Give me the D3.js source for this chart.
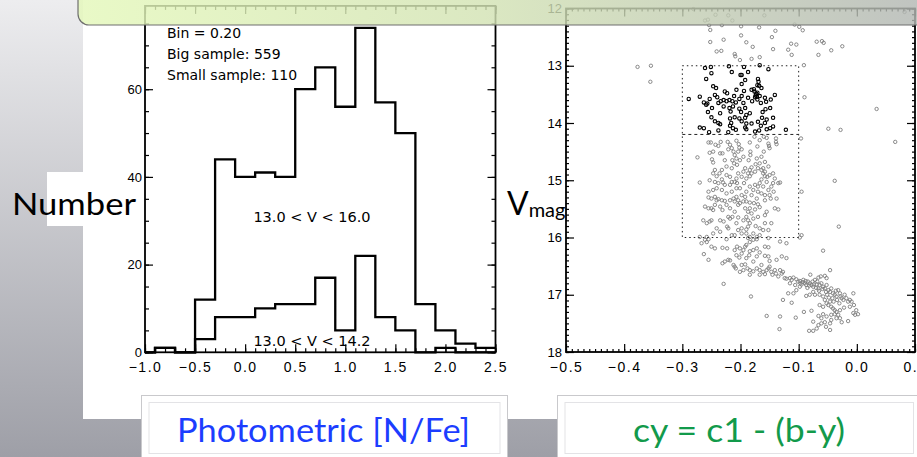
<!DOCTYPE html>
<html>
<head>
<meta charset="utf-8">
<script src="https://cdn.jsdelivr.net/npm/d3@7"></script>
<style>
  html, body { margin: 0; padding: 0; overflow: hidden; background: #fff; }
  svg { display: block; }
  .tick text { font-family: "Liberation Sans", Arial, sans-serif; font-size: 13px; fill: #000; }
  .tick line { stroke: #000; stroke-width: 1.2; }
</style>
</head>
<body>
<svg id="slide" width="917" height="457"></svg>
<script>
// ---------- [N/Fe] histogram (bin = 0.20) ----------
const binEdges = [-0.9, -0.7, -0.5, -0.3, -0.1, 0.1, 0.3, 0.5, 0.7, 0.9, 1.1, 1.3, 1.5, 1.7, 1.9, 2.1, 2.3, 2.5];
const bigCounts   = [1, 0, 12, 44, 40, 41, 40, 60, 65, 56, 74, 57, 50, 11, 5, 2, 1];   // 13.0 < V < 16.0
const smallCounts = [1, 0, 3, 8, 8, 10, 11, 11, 17, 5, 22, 8, 5, 0, 1, 0, 0];          // 13.0 < V < 14.2
const histXTicks = [-1.0, -0.5, 0.0, 0.5, 1.0, 1.5, 2.0, 2.5];
const histYTicks = [0, 20, 40, 60];
const histNotes = ["Bin = 0.20", "Big sample: 559", "Small sample: 110"];
const rangeLabels = ["13.0 < V < 16.0", "13.0 < V < 14.2"];

// ---------- cy vs V diagram ----------
const cmdXTicks = [-0.5, -0.4, -0.3, -0.2, -0.1, 0.0, 0.1];
const cmdYTicks = [12, 13, 14, 15, 16, 17, 18];
const selCy = [-0.3, -0.1];
const selV = [13.0, 14.2, 16.0];

// stars outside the bright selection: [cy, V]
const fieldStars = [
  [-0.281,12.01],[-0.243,12.11],[-0.221,12.12],[-0.214,12.21],[-0.159,12.12],[-0.261,12.21],[-0.256,12.195],[-0.254,12.29],
  [-0.252,12.375],[-0.232,12.29],[-0.199,12.31],[-0.168,12.33],[-0.140,12.39],[-0.107,12.28],[-0.099,12.32],[-0.093,12.38],
  [-0.199,12.47],[-0.146,12.50],[-0.229,12.545],[-0.252,12.585],[-0.190,12.59],[-0.179,12.67],[-0.113,12.615],[-0.104,12.63],
  [-0.144,12.71],[-0.118,12.72],[-0.112,12.81],[-0.241,12.75],[-0.233,12.74],[-0.210,12.795],[-0.209,12.835],[-0.201,12.90],
  [-0.181,12.88],[-0.167,12.85],[-0.069,12.58],[-0.060,12.57],[-0.057,12.60],[-0.025,12.66],[-0.044,12.73],[-0.066,12.81],
  [-0.377,13.02],[-0.354,13.00],[-0.355,13.28],[-0.091,12.99],[-0.090,13.55],[0.034,13.755],[0.082,12.06],
  [-0.049,14.10],[-0.028,14.12],[0.066,14.33],[-0.038,15.01],[-0.031,15.81],
  [-0.255,14.34],[-0.251,14.34],[-0.243,14.38],[-0.234,14.33],[-0.222,14.33],[-0.207,14.31],[-0.203,14.37],[-0.202,14.43],
  [-0.184,14.34],[-0.176,14.24],[-0.167,14.30],[-0.160,14.24],[-0.155,14.26],[-0.152,14.36],[-0.151,14.40],[-0.150,14.44],
  [-0.139,14.27],[-0.139,14.33],[-0.138,14.37],[-0.160,14.50],[-0.164,14.59],[-0.183,14.50],[-0.183,14.56],[-0.204,14.50],
  [-0.210,14.56],[-0.207,14.62],[-0.215,14.44],[-0.218,14.38],[-0.221,14.46],[-0.231,14.53],[-0.235,14.53],[-0.247,14.50],
  [-0.253,14.52],[-0.274,14.60],[-0.249,14.635],[-0.247,14.69],[-0.227,14.65],[-0.214,14.65],[-0.211,14.705],[-0.206,14.73],
  [-0.201,14.65],[-0.195,14.59],[-0.186,14.65],[-0.172,14.62],[-0.167,14.705],[-0.174,14.72],[-0.181,14.775],[-0.184,14.82],
  [-0.192,14.79],[-0.195,14.85],[-0.204,14.88],[-0.215,14.79],[-0.224,14.76],[-0.232,14.82],[-0.236,14.88],[-0.241,14.93],
  [-0.244,14.82],[-0.247,14.88],[-0.253,15.00],[-0.270,15.04],[-0.255,15.20],[-0.247,15.17],[-0.244,15.03],[-0.230,15.04],
  [-0.227,15.08],[-0.215,15.03],[-0.210,15.03],[-0.206,15.05],[-0.201,15.14],[-0.194,15.05],[-0.190,14.97],[-0.184,14.93],
  [-0.181,14.88],[-0.175,14.85],[-0.170,14.79],[-0.164,14.82],[-0.161,14.88],[-0.158,14.93],[-0.154,14.94],[-0.150,14.91],
  [-0.144,14.88],[-0.141,14.97],[-0.144,15.05],[-0.135,15.05],[-0.132,15.04],[-0.164,14.985],[-0.167,15.05],[-0.170,15.11],
  [-0.175,15.08],[-0.178,15.17],[-0.170,15.20],[-0.164,15.23],[-0.152,15.17],[-0.150,15.26],[-0.158,15.35],[-0.148,15.32],
  [-0.138,15.32],[-0.095,15.20],[-0.190,15.20],[-0.192,15.29],[-0.198,15.26],[-0.207,15.29],[-0.212,15.32],[-0.215,15.20],
  [-0.224,15.23],[-0.232,15.17],[-0.241,15.14],[-0.255,15.30],[-0.250,15.32],[-0.244,15.29],[-0.238,15.33],[-0.232,15.35],
  [-0.227,15.36],[-0.218,15.35],[-0.210,15.37],[-0.204,15.35],[-0.201,15.40],[-0.195,15.37],[-0.190,15.37],[-0.184,15.39],
  [-0.177,15.40],[-0.170,15.42],[-0.167,15.47],[-0.175,15.51],[-0.181,15.58],[-0.187,15.55],[-0.190,15.64],[-0.187,15.70],
  [-0.184,15.75],[-0.187,15.81],[-0.190,15.86],[-0.190,15.93],[-0.184,15.99],[-0.198,15.84],[-0.198,15.93],[-0.204,15.87],
  [-0.210,15.96],[-0.215,15.96],[-0.221,15.84],[-0.223,15.81],[-0.218,15.67],[-0.214,15.64],[-0.204,15.65],[-0.221,15.64],
  [-0.235,15.70],[-0.235,15.90],[-0.250,15.70],[-0.253,15.72],[-0.258,15.75],[-0.264,15.70],[-0.261,15.46],[-0.255,15.49],
  [-0.250,15.49],[-0.247,15.52],[-0.244,15.43],[-0.235,15.46],[-0.231,15.52],[-0.218,15.49],[-0.210,15.55],[-0.170,15.64],
  [-0.174,15.80],[-0.167,15.84],[-0.158,15.75],[-0.152,15.87],[-0.167,15.96],[-0.152,16.01],[-0.141,15.49],[-0.135,15.51],
  [-0.155,15.55],[-0.158,15.61],[-0.095,15.96],[-0.098,16.00],[-0.258,15.99],[-0.270,15.99],[-0.096,14.27],
  [-0.238,14.40],[-0.198,14.46],[-0.212,14.50],[-0.171,14.41],[-0.158,14.68],[-0.152,14.76],[-0.161,14.79],[-0.158,14.85],
  [-0.187,14.88],[-0.198,14.94],[-0.207,14.97],[-0.218,14.94],[-0.224,14.91],[-0.232,14.985],[-0.238,15.05],[-0.218,15.08],
  [-0.207,15.14],[-0.184,15.11],[-0.181,15.26],[-0.161,15.11],[-0.155,15.03],[-0.147,15.11],[-0.143,15.20],[-0.158,15.26],
  [-0.172,15.32],[-0.241,15.35],[-0.224,15.43],[-0.204,15.43],[-0.192,15.49],[-0.184,15.49],[-0.178,15.67],[-0.195,15.70],
  [-0.207,15.75],[-0.229,15.72],[-0.241,15.84],[-0.247,15.93],[-0.178,15.93],[-0.172,15.99],[-0.161,15.87],[-0.147,15.75],
  [-0.261,16.04],[-0.255,16.03],[-0.267,16.10],[-0.258,16.08],[-0.250,16.16],[-0.244,16.19],[-0.263,16.29],[-0.255,16.39],
  [-0.231,16.18],[-0.223,16.19],[-0.224,16.03],[-0.210,16.22],[-0.206,16.16],[-0.201,16.19],[-0.195,16.22],[-0.192,16.16],
  [-0.190,16.13],[-0.184,16.08],[-0.178,16.04],[-0.172,16.03],[-0.187,16.01],[-0.184,16.24],[-0.178,16.22],[-0.172,16.19],
  [-0.158,16.16],[-0.152,16.17],[-0.132,16.07],[-0.121,16.10],[-0.207,16.31],[-0.202,16.35],[-0.198,16.28],[-0.190,16.36],
  [-0.185,16.31],[-0.172,16.33],[-0.167,16.26],[-0.158,16.32],[-0.152,16.33],[-0.150,16.41],[-0.138,16.39],[-0.129,16.33],
  [-0.121,16.36],[-0.058,16.23],[-0.231,16.45],[-0.227,16.42],[-0.221,16.39],[-0.218,16.40],[-0.208,16.54],[-0.210,16.51],
  [-0.198,16.48],[-0.192,16.47],[-0.188,16.54],[-0.195,16.57],[-0.184,16.57],[-0.178,16.59],[-0.172,16.54],[-0.167,16.57],
  [-0.161,16.60],[-0.158,16.64],[-0.155,16.57],[-0.152,16.54],[-0.147,16.60],[-0.141,16.57],[-0.139,16.63],[-0.135,16.68],
  [-0.129,16.63],[-0.127,16.60],[-0.124,16.71],[-0.121,16.72],[-0.115,16.71],[-0.112,16.74],[-0.109,16.70],[-0.104,16.73],
  [-0.101,16.77],[-0.098,16.76],[-0.095,16.82],[-0.092,16.74],[-0.089,16.80],[-0.087,16.83],[-0.084,16.77],[-0.081,16.80],
  [-0.078,16.83],[-0.075,16.86],[-0.072,16.74],[-0.069,16.82],[-0.066,16.89],[-0.064,16.83],[-0.061,16.80],[-0.058,16.86],
  [-0.055,16.89],[-0.052,16.83],[-0.049,16.92],[-0.046,16.95],[-0.044,16.89],[-0.041,16.975],[-0.038,17.00],[-0.035,17.03],
  [-0.032,16.92],[-0.029,16.975],[-0.026,17.06],[-0.023,17.09],[-0.021,17.00],[-0.018,17.06],[-0.015,17.12],[-0.012,17.09],
  [-0.009,17.12],[-0.006,16.975],[-0.046,16.57],[-0.055,16.67],[-0.066,16.70],[-0.080,16.65],[-0.098,16.86],[-0.104,16.92],
  [-0.109,16.975],[-0.118,16.975],[-0.127,17.09],[-0.112,17.14],[-0.087,17.02],[-0.081,17.00],[-0.075,16.95],[-0.072,17.00],
  [-0.064,17.00],[-0.058,17.03],[-0.055,17.09],[-0.052,17.15],[-0.064,17.18],[-0.058,17.21],[-0.049,17.18],[-0.046,17.12],
  [-0.044,17.21],[-0.041,17.24],[-0.038,17.27],[-0.035,17.30],[-0.032,17.35],[-0.029,17.41],[-0.026,17.48],[-0.035,17.41],
  [-0.044,17.44],[-0.046,17.50],[-0.055,17.48],[-0.061,17.50],[-0.066,17.53],[-0.069,17.59],[-0.075,17.63],[-0.082,17.63],
  [-0.046,17.615],[-0.015,17.46],[-0.006,17.32],[-0.001,17.27],[0.002,17.34],[-0.005,17.18],[-0.022,17.225],[-0.038,17.34],
  [-0.058,17.34],[-0.066,17.37],[-0.078,17.28],[-0.091,17.30],[-0.105,17.40],[-0.132,17.38],[-0.155,17.37],[-0.133,17.60],
  [-0.182,17.03],[-0.229,16.81],
  [-0.097,16.80],[-0.093,16.78],[-0.088,16.76],[-0.085,16.88],[-0.082,16.84],[-0.076,16.77],[-0.074,16.82],[-0.070,16.88],
  [-0.068,16.77],[-0.065,16.93],[-0.059,16.90],[-0.053,16.95],[-0.051,17.00],[-0.048,17.05],[-0.042,17.06],[-0.040,17.12],
  [-0.036,16.93],[-0.034,17.09],[-0.030,17.15],[-0.028,17.03],[-0.106,16.83],[-0.115,16.80],[-0.062,16.68],[-0.052,16.71],
  [-0.044,17.35],[-0.052,17.38],[-0.061,17.41],[-0.075,17.47],[-0.053,17.56],[-0.012,17.21],[-0.003,17.35],[-0.029,17.27],
  [-0.178,16.42],[-0.164,16.48],[-0.150,16.51],[-0.145,16.65],[-0.132,16.57],[-0.167,16.65],[-0.184,16.65],[-0.201,16.60],
  [-0.212,16.48]
];

// bright selection: -0.3 < cy < -0.1 and 13.0 < V < 14.2
const selectedStars = [
  [-0.261,13.04],[-0.251,13.02],[-0.220,13.01],[-0.194,13.02],[-0.167,12.99],[-0.152,13.06],[-0.250,13.13],[-0.215,13.11],
  [-0.200,13.16],[-0.198,13.16],[-0.259,13.23],[-0.170,13.23],[-0.169,13.28],[-0.171,13.34],[-0.164,13.39],[-0.177,13.41],
  [-0.176,13.45],[-0.247,13.36],[-0.242,13.39],[-0.227,13.45],[-0.207,13.42],[-0.194,13.44],[-0.198,13.32],[-0.181,13.42],
  [-0.174,13.52],[-0.173,13.49],[-0.172,13.54],[-0.167,13.53],[-0.289,13.58],[-0.270,13.54],[-0.263,13.64],[-0.259,13.68],
  [-0.257,13.66],[-0.253,13.58],[-0.244,13.51],[-0.240,13.55],[-0.238,13.65],[-0.234,13.62],[-0.229,13.60],[-0.224,13.62],
  [-0.219,13.60],[-0.214,13.62],[-0.211,13.53],[-0.208,13.64],[-0.202,13.58],[-0.198,13.53],[-0.195,13.65],[-0.187,13.56],
  [-0.180,13.62],[-0.171,13.59],[-0.165,13.65],[-0.158,13.56],[-0.156,13.63],[-0.148,13.59],[-0.229,13.71],[-0.219,13.74],
  [-0.217,13.80],[-0.213,13.71],[-0.202,13.75],[-0.199,13.81],[-0.192,13.74],[-0.190,13.86],[-0.157,13.76],[-0.162,13.81],
  [-0.250,13.90],[-0.244,13.97],[-0.238,14.00],[-0.218,13.92],[-0.216,14.00],[-0.202,13.92],[-0.198,13.97],[-0.192,13.91],
  [-0.190,14.01],[-0.181,14.01],[-0.170,13.98],[-0.158,14.00],[-0.155,13.94],[-0.144,13.91],[-0.270,14.08],[-0.263,14.09],
  [-0.254,14.16],[-0.238,14.13],[-0.221,14.16],[-0.213,14.09],[-0.208,14.12],[-0.192,14.08],[-0.190,14.11],[-0.175,14.15],
  [-0.168,14.13],[-0.155,14.11],[-0.149,14.09],[-0.144,14.06],[-0.122,14.12],[-0.165,14.05],[-0.218,14.05],[-0.235,14.02],
  [-0.171,13.47],[-0.175,13.55],[-0.168,13.35],[-0.192,13.25],[-0.223,13.48],[-0.249,13.74],[-0.235,13.83],[-0.210,13.90],
  [-0.184,13.83],[-0.163,13.91],[-0.256,13.81],[-0.149,13.74],[-0.141,13.51],[-0.187,13.11]
];

const W = 917, H = 457;
const svg = d3.select("#slide");
const defs = svg.append("defs");

// slide background and picture panels
const bgGrad = defs.append("linearGradient").attr("id", "bgGrad").attr("x1", 0).attr("y1", 0).attr("x2", 0).attr("y2", 1);
bgGrad.append("stop").attr("offset", "0%").attr("stop-color", "#ededef");
bgGrad.append("stop").attr("offset", "100%").attr("stop-color", "#9e9fa7");
svg.append("rect").attr("width", W).attr("height", H).attr("fill", "url(#bgGrad)");
svg.append("rect").attr("x", 83).attr("y", 0).attr("width", W - 83).attr("height", 419).attr("fill", "#fff");
svg.append("rect").attr("x", 47).attr("y", 172).attr("width", 40).attr("height", 54).attr("fill", "#fff");

// frame with inward major/minor ticks on all four sides
function drawFrame(g, x, y, o) {
  const [x0, x1] = x.range();
  const [yb, yt] = y.range();
  const put = (gen, tr) => g.append("g").attr("transform", tr).call(gen).call(s => s.select(".domain").remove());
  put(d3.axisBottom(x).tickValues(o.xMinor).tickSize(-o.minor).tickFormat(""), `translate(0,${yb})`);
  put(d3.axisTop(x).tickValues(o.xMinor).tickSize(-o.minor).tickFormat(""), `translate(0,${yt})`);
  put(d3.axisLeft(y).tickValues(o.yMinor).tickSize(-o.minor).tickFormat(""), `translate(${x0},0)`);
  put(d3.axisRight(y).tickValues(o.yMinor).tickSize(-o.minor).tickFormat(""), `translate(${x1},0)`);
  put(d3.axisBottom(x).tickValues(o.xMajor).tickSize(-o.major).tickPadding(o.xPad).tickFormat(o.xFmt), `translate(0,${yb})`)
    .selectAll("text").style("font-size", "14px").style("letter-spacing", "1.5px");
  put(d3.axisTop(x).tickValues(o.xMajor).tickSize(-o.major).tickFormat(""), `translate(0,${yt})`);
  put(d3.axisLeft(y).tickValues(o.yMajor).tickSize(-o.major).tickPadding(o.yPad).tickFormat(o.yFmt), `translate(${x0},0)`);
  put(d3.axisRight(y).tickValues(o.yMajor).tickSize(-o.major).tickFormat(""), `translate(${x1},0)`);
  g.append("rect").attr("x", x0).attr("y", yt).attr("width", x1 - x0).attr("height", yb - yt)
    .attr("fill", "none").attr("stroke", "#000").attr("stroke-width", 1.8);
}

// ---------- left panel: histograms ----------
const hx = d3.scaleLinear().domain([-1.0, 2.5]).range([145, 495.5]);
const hy = d3.scaleLinear().domain([0, 79]).range([352.3, 5.9]);
const gH = svg.append("g");

const stepLine = d3.line().x(d => hx(d[0])).y(d => hy(d[1])).curve(d3.curveStepAfter);
function histPoints(counts) {
  const pts = [[hx.domain()[0], 0]];
  counts.forEach((c, i) => pts.push([binEdges[i], c]));
  pts.push([binEdges[binEdges.length - 1], counts[counts.length - 1]]);
  return pts;
}
[bigCounts, smallCounts].forEach(c => {
  gH.append("path").attr("d", stepLine(histPoints(c)))
    .attr("fill", "none").attr("stroke", "#000").attr("stroke-width", 2.3).attr("stroke-linejoin", "miter");
});

drawFrame(gH, hx, hy, {
  xMajor: histXTicks, xMinor: d3.range(-1.0, 2.501, 0.1),
  yMajor: histYTicks, yMinor: d3.range(0, 79, 5),
  major: 8, minor: 4, xPad: 10, yPad: 3,
  xFmt: d3.format(".1f"), yFmt: d3.format("d")
});

const noteFont = '"DejaVu Sans", sans-serif';
gH.selectAll("text.note").data(histNotes).join("text").attr("class", "note")
  .attr("x", 167).attr("y", (d, i) => 37.5 + i * 21)
  .attr("font-family", noteFont).attr("font-size", 14).text(d => d);
gH.selectAll("text.range").data(rangeLabels).join("text").attr("class", "range")
  .attr("x", 312).attr("y", (d, i) => [221.5, 345.5][i]).attr("text-anchor", "middle")
  .attr("font-family", noteFont).attr("font-size", 14.5).text(d => d);

// ---------- right panel: cy vs V ----------
const cx = d3.scaleLinear().domain([-0.5, 0.1]).range([566, 915]);
const cyScale = d3.scaleLinear().domain([18, 12]).range([352, 8.5]);
const gC = svg.append("g");

gC.selectAll("circle.field").data(fieldStars).join("circle").attr("class", "field")
  .attr("cx", d => cx(d[0])).attr("cy", d => cyScale(d[1])).attr("r", 1.7)
  .attr("fill", "none").attr("stroke", "#7d7d7d").attr("stroke-width", 0.9);
gC.selectAll("circle.sel").data(selectedStars).join("circle").attr("class", "sel")
  .attr("cx", d => cx(d[0])).attr("cy", d => cyScale(d[1])).attr("r", 1.7)
  .attr("fill", "none").attr("stroke", "#000").attr("stroke-width", 1.1);

// selection boxes
const boxG = gC.append("g").attr("fill", "none").attr("stroke", "#222").attr("stroke-width", 1);
boxG.append("rect").attr("x", cx(selCy[0])).attr("y", cyScale(selV[0]))
  .attr("width", cx(selCy[1]) - cx(selCy[0])).attr("height", cyScale(selV[2]) - cyScale(selV[0]))
  .attr("stroke-dasharray", "1.5,3");
boxG.append("line").attr("x1", cx(selCy[0])).attr("x2", cx(selCy[1]))
  .attr("y1", cyScale(selV[1])).attr("y2", cyScale(selV[1])).attr("stroke-dasharray", "3,3");

drawFrame(gC, cx, cyScale, {
  xMajor: cmdXTicks, xMinor: d3.range(-0.5, 0.1001, 0.01),
  yMajor: cmdYTicks, yMinor: d3.range(12, 18.001, 0.1),
  major: 8, minor: 3, xPad: 10, yPad: 4,
  xFmt: d3.format(".1f"), yFmt: d3.format("d")
});

// ---------- axis titles ----------
const titleFont = 'Lato, "Open Sans", sans-serif';
svg.append("text").attr("x", 12).attr("y", 214.5).attr("font-family", titleFont).attr("font-size", 30)
  .attr("textLength", 124).attr("lengthAdjust", "spacingAndGlyphs").attr("fill", "#000").text("Number");
const vt = svg.append("text").attr("x", 507).attr("y", 215).attr("font-family", titleFont).attr("fill", "#000");
vt.append("tspan").attr("font-size", 32).text("V");
vt.append("tspan").attr("font-size", 20).attr("dy", 2).text("mag");

// ---------- banner strip across the top ----------
const banGrad = defs.append("linearGradient").attr("id", "banGrad").attr("x1", 0).attr("y1", 0).attr("x2", 1).attr("y2", 0);
banGrad.append("stop").attr("offset", "0%").attr("stop-color", "#e4f8ba");
banGrad.append("stop").attr("offset", "45%").attr("stop-color", "#d3e3b4");
banGrad.append("stop").attr("offset", "100%").attr("stop-color", "#aeb1b3");
svg.append("rect").attr("x", 78).attr("y", -25).attr("width", 900).attr("height", 50).attr("rx", 11)
  .attr("fill", "url(#banGrad)").attr("fill-opacity", 0.82).attr("stroke", "#6f6f6f").attr("stroke-width", 1.2);

// ---------- caption boxes ----------
const captions = [
  { text: "Photometric [N/Fe]", x: 141.5, w: 366, tx: 177, tl: 293, color: "#1c3dff" },
  { text: "cy = c1 - (b-y)", x: 557.5, w: 380, tx: 633, tl: 212, color: "#129a4b" }
];
captions.forEach(c => {
  svg.append("rect").attr("x", c.x).attr("y", 395.5).attr("width", c.w).attr("height", 80)
    .attr("fill", "#fff").attr("stroke", "#c9c9cc").attr("stroke-width", 1);
  svg.append("rect").attr("x", c.x + 7.5).attr("y", 402.5).attr("width", Math.min(c.w - 15, W - c.x - 11)).attr("height", 51)
    .attr("fill", "none").attr("stroke", "#e3e3e6").attr("stroke-width", 1);
  svg.append("text").attr("x", c.tx).attr("y", 442).attr("font-family", titleFont).attr("font-size", 33)
    .attr("textLength", c.tl).attr("lengthAdjust", "spacingAndGlyphs").attr("fill", c.color).text(c.text);
});
</script>
</body>
</html>
